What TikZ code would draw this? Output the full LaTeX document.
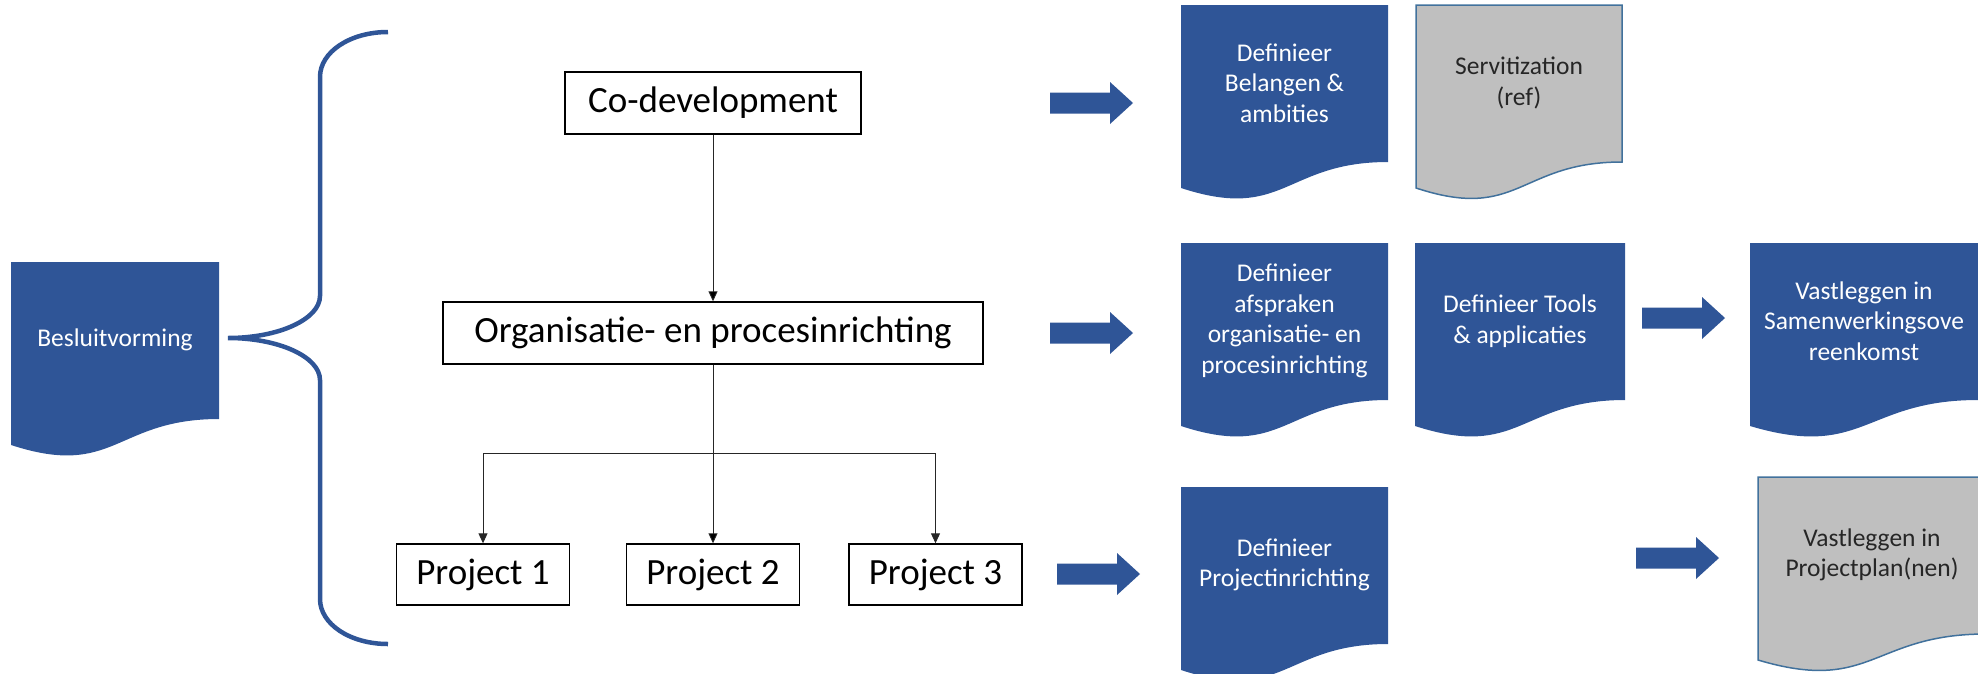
\documentclass[tikz,border=0pt]{standalone}
\usepackage{fontspec}
\setmainfont{Carlito}
\usetikzlibrary{arrows.meta}

\definecolor{docblue}{HTML}{2F5597}
\definecolor{docgray}{HTML}{BFBFBF}
\definecolor{docedge}{HTML}{41719C}

% document shape: name, x, top, width, path style, text colour, text
\newcommand{\docshape}[7]{%
  \path[#5] (#2,#3) -- (#2+#4,#3) -- (#2+#4,#3+157)
    .. controls (#2+#4/2,#3+157) and (#2+#4/2,#3+217) .. (#2,#3+183) -- cycle;
  \node[doc text,text=#6] (#1) at (#2+#4/2,#3+78) {#7};}

% block arrow: left end x, middle y
\newcommand{\fatarrow}[2]{%
  \fill[docblue] (#1,#2-10.5) -- (#1+60,#2-10.5) -- (#1+60,#2-21) -- (#1+83,#2)
    -- (#1+60,#2+21) -- (#1+60,#2+10.5) -- (#1,#2+10.5) -- cycle;}

\begin{document}
\begin{tikzpicture}[x=1pt,y=-1pt,>={Triangle[width=9pt,length=10pt]},
  box node/.style={draw,line width=1.4pt,minimum height=62,inner sep=0pt,
    font=\fontsize{37}{44}\selectfont},
  doc text/.style={align=center,font=\fontsize{25.5}{30.5}\selectfont},
  blue doc/.style={fill=docblue},
  gray doc/.style={fill=docgray,draw=docedge,line width=1.5pt},
  brace line/.style={draw=docblue,line width=4.5pt}]

 \clip (0,0) rectangle (1978,673);

 \docshape{besl}{11}{262}{208}{blue doc}{white}{Besluitvorming}

 % accolade
 \path[brace line] (388,32) .. controls (350,32) and (320,52) .. (320,77)
   -- (320,296) .. controls (320,319) and (279,338) .. (228,338)
   .. controls (279,338) and (320,357) .. (320,380)
   -- (320,599) .. controls (320,624) and (350,644) .. (388,644);

 \node[box node,minimum width=296] (cd) at (713,103) {Co-development};
 \node[box node,minimum width=540] (org) at (713,333) {Organisatie- en procesinrichting};
 \node[box node,minimum width=173,minimum height=61] (p1) at (483,574.5) {Project 1};
 \node[box node,minimum width=173,minimum height=61] (p2) at (713,574.5) {Project 2};
 \node[box node,minimum width=173,minimum height=61] (p3) at (935.5,574.5) {Project 3};
 \coordinate (split) at (713,453);

 \path[draw=black!85,line width=0.9pt]
    (cd)    edge [->] (org)
    (org)   edge (split)
    (split) edge [->] (p2);
 \draw[->,black!85,line width=0.9pt] (split) -| (p1);
 \draw[->,black!85,line width=0.9pt] (split) -| (p3);

 \fatarrow{1050}{103}
 \fatarrow{1050}{333}
 \fatarrow{1057}{574}
 \fatarrow{1642}{318}
 \fatarrow{1636}{558}

 \docshape{d1}{1181}{5}{207}{blue doc}{white}{Definieer\\Belangen \&\\ambities}
 \docshape{d2}{1416}{5}{206}{gray doc}{black!85}{Servitization\\(ref)}
 \docshape{d3}{1181}{243}{207}{blue doc}{white}{Definieer\\afspraken\\organisatie- en\\procesinrichting}
 \docshape{d4}{1415}{243}{210}{blue doc}{white}{Definieer Tools\\\& applicaties}
 \docshape{d5}{1750}{243}{228}{blue doc}{white}{Vastleggen in\\Samenwerkingsove\\reenkomst}
 \docshape{d6}{1181}{487}{207}{blue doc}{white}{Definieer\\Projectinrichting}
 \docshape{d7}{1758}{477}{228}{gray doc}{black!85}{Vastleggen in\\Projectplan(nen)}

\end{tikzpicture}
\end{document}
